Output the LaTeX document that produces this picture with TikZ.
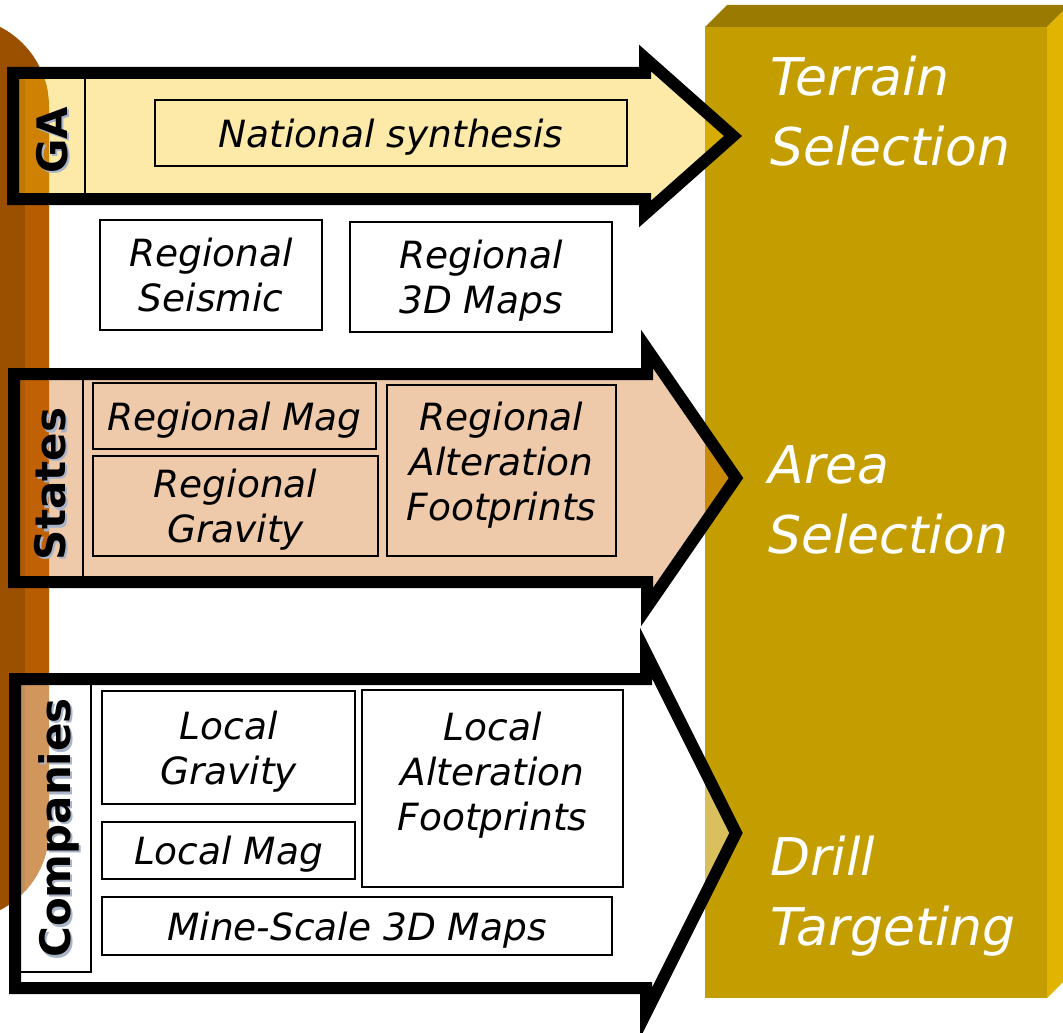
\documentclass[tikz,border=0pt]{standalone}
\usepackage{fontspec}
\setmainfont{DejaVu Sans}

\definecolor{goldfront}{RGB}{196,158,0}
\definecolor{goldtop}{RGB}{155,122,0}
\definecolor{goldside}{RGB}{224,180,0}
\definecolor{browndark}{RGB}{155,80,0}
\definecolor{brownlight}{RGB}{184,92,0}
\definecolor{gafill}{RGB}{249,197,13}
\definecolor{statesfill}{RGB}{208,108,19}
\definecolor{labelshadow}{RGB}{170,180,200}

\tikzset{
  blockarrow/.style={line width=12pt, line join=miter, miter limit=20, fill opacity=0.36},
  infobox/.style={draw, line width=1.8pt, inner sep=0pt, align=center, text depth=0pt,
    font=\fontsize{37.5}{45}\selectfont\itshape},
  orglabel/.style={rotate=90, anchor=base, font=\fontsize{42}{50}\selectfont\bfseries},
  stagelabel/.style={text=white, anchor=base west, align=left,
    font=\fontsize{52}{70}\selectfont\itshape},
}

\begin{document}
\begin{tikzpicture}[x=1pt,y=-1pt]
    \useasboundingbox (0,0) rectangle (1063,1033);
    \clip (0,0) rectangle (1063,1033);

    % Gold stage column
    \fill[goldtop] (705,27) -- (727,5) -- (1069,5) -- (1047,27) -- cycle;
    \fill[goldside] (1047,27) -- (1069,5) -- (1069,976) -- (1047,998) -- cycle;
    \fill[goldfront] (705,27) rectangle (1047,998);

    % Brown backdrop
    \fill[browndark, rounded corners=90] (-131,17) rectangle (49,920);
    \begin{scope}
        \clip[rounded corners=90] (-131,17) rectangle (49,920);
        \fill[brownlight] (25,70) rectangle (49,920);
    \end{scope}

    % Block arrows
    \draw[blockarrow, fill=gafill] (13,73) -- (645,73) -- (645,58) -- (733,136) -- (645,214) -- (645,199) -- (13,199) -- cycle;
    \draw[blockarrow, fill=statesfill] (14,374) -- (647,374) -- (647,349) -- (736,478) -- (647,607) -- (647,582) -- (14,582) -- cycle;
    \draw[blockarrow, fill=white] (15,679) -- (646,679) -- (646,653) -- (736,833) -- (646,1013) -- (646,988) -- (15,988) -- cycle;

    % Label columns
    \draw[line width=1.5pt] (85,79) -- (85,193);
    \draw[line width=1.5pt] (83,380) -- (83,576);
    \draw[line width=1.5pt] (91,685) -- (91,972) -- (21,972);

    % Data boxes
    \node[infobox, minimum width=472, minimum height=66] (natsyn) at (391,133) {National synthesis};
    \node[infobox, minimum width=222, minimum height=110] (regseis) at (211,275) {Regional\\Seismic};
    \node[infobox, minimum width=262, minimum height=110] (reg3d) at (481,277) {Regional\\3D Maps};
    \node[infobox, minimum width=283, minimum height=66] (regmag) at (234.5,416) {Regional Mag};
    \node[infobox, minimum width=285, minimum height=100] (reggrav) at (235.5,506) {Regional\\Gravity};
    \node[infobox, minimum width=229, minimum height=171, text depth=18pt] (regalt) at (501.5,470.5) {Regional\\Alteration\\Footprints};
    \node[infobox, minimum width=253, minimum height=113] (locgrav) at (228.5,747.5) {Local\\Gravity};
    \node[infobox, minimum width=253, minimum height=57] (locmag) at (228.5,850.5) {Local Mag};
    \node[infobox, minimum width=261, minimum height=197, text depth=34pt] (localt) at (492.5,788.5) {Local\\Alteration\\Footprints};
    \node[infobox, minimum width=510, minimum height=58] (minemaps) at (357,926) {Mine-Scale 3D Maps};

    % Organisation labels
    \node[orglabel, text=labelshadow] (gashadow) at (69.5,142.5) {GA};
    \node[orglabel] (ga) at (67,140) {GA};
    \node[orglabel, text=labelshadow] (statesshadow) at (67.5,486.5) {States};
    \node[orglabel] (states) at (65,484) {States};
    \node[orglabel, text=labelshadow] (compshadow) at (72.5,830.5) {Companies};
    \node[orglabel] (companies) at (70,828) {Companies};

    % Stage labels
    \node[stagelabel] (terrain) at (767,165) {Terrain\\Selection};
    \node[stagelabel] (area) at (765,553) {Area\\Selection};
    \node[stagelabel] (drill) at (767,945) {Drill\\Targeting};
\end{tikzpicture}
\end{document}
